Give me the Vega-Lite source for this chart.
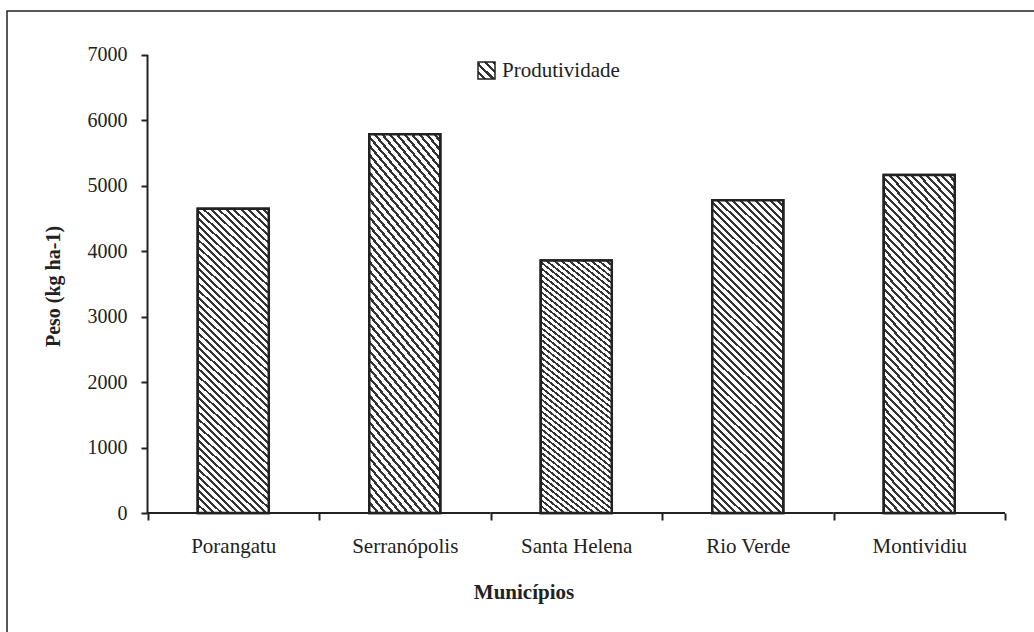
{
  "$schema": "https://vega.github.io/schema/vega-lite/v6.json",
  "width": 1033,
  "height": 627,
  "autosize": {"type": "none"},
  "padding": {"left": 7, "top": 11, "right": -6, "bottom": -6},
  "background": "#ffffff",
  "config": {
    "view": {"stroke": "#222222", "strokeWidth": 1.5},
    "font": "Liberation Serif",
    "axis": {
      "grid": false,
      "domain": false,
      "labelFont": "Liberation Serif",
      "titleFont": "Liberation Serif",
      "labelColor": "#222222",
      "titleColor": "#222222",
      "tickColor": "#222222",
      "tickWidth": 2
    },
    "legend": {
      "orient": "none",
      "legendX": 469,
      "legendY": 49,
      "padding": 0,
      "symbolType": "square",
      "symbolSize": 289,
      "symbolStrokeWidth": 1.5,
      "labelFont": "Liberation Serif",
      "labelFontSize": 21,
      "labelColor": "#222222",
      "labelOffset": 5
    }
  },
  "data": {
    "values": [
      {"municipio": "Porangatu", "peso": 4650},
      {"municipio": "Serranópolis", "peso": 5790},
      {"municipio": "Santa Helena", "peso": 3860},
      {"municipio": "Rio Verde", "peso": 4780},
      {"municipio": "Montividiu", "peso": 5165}
    ]
  },
  "layer": [
    {
      "mark": {"type": "point", "shape": "square", "filled": false, "stroke": "#222222", "strokeWidth": 1.5, "size": 289},
      "encoding": {
        "x": {
          "field": "municipio",
          "type": "nominal",
          "sort": null,
          "scale": {"paddingInner": 0, "paddingOuter": 0.5117, "align": 0.8006},
          "axis": {
            "title": "Municípios",
            "offset": -125,
            "tickBand": "extent",
            "tickSize": 7,
            "labelPadding": 15,
            "labelFontSize": 21,
            "labelAngle": 0,
            "titleFontSize": 21,
            "titleFontWeight": "bold",
            "titlePadding": 25
          }
        },
        "y": {
          "datum": 2000,
          "type": "quantitative",
          "scale": {"domain": [-1910.4, 7672.3], "nice": false, "zero": false},
          "axis": {
            "title": "Peso (kg ha-1)",
            "values": [0, 1000, 2000, 3000, 4000, 5000, 6000, 7000],
            "format": "d",
            "offset": -140.5,
            "tickSize": 6.5,
            "labelPadding": 14,
            "labelFontSize": 20,
            "titleFontSize": 20,
            "titleFontWeight": "bold",
            "titleAngle": -90,
            "titleX": -94,
            "titleY": 275,
            "titleAlign": "center",
            "titleBaseline": "middle"
          }
        },
        "strokeOpacity": {
          "datum": "Produtividade ",
          "type": "nominal",
          "scale": {"range": [1]},
          "legend": {"title": null, "labelColor": "transparent", "symbolStrokeColor": "#222222", "symbolStrokeWidth": 1.5, "zindex": 2}
        }
      }
    },
    {
      "mark": {
        "type": "bar",
        "width": {"band": 0.414},
        "stroke": "#222222",
        "strokeWidth": 2.5,
        "fill": {
          "gradient": "linear", "x1": 0, "y1": 1, "x2": 1, "y2": 0,
          "stops": [
            {"offset": 0, "color": "#ffffff"}, {"offset": 0.15, "color": "#ffffff"}, {"offset": 0.15, "color": "#333333"}, {"offset": 0.25, "color": "#333333"},
            {"offset": 0.25, "color": "#ffffff"}, {"offset": 0.4, "color": "#ffffff"}, {"offset": 0.4, "color": "#333333"}, {"offset": 0.5, "color": "#333333"},
            {"offset": 0.5, "color": "#ffffff"}, {"offset": 0.65, "color": "#ffffff"}, {"offset": 0.65, "color": "#333333"}, {"offset": 0.75, "color": "#333333"},
            {"offset": 0.75, "color": "#ffffff"}, {"offset": 0.9, "color": "#ffffff"}, {"offset": 0.9, "color": "#333333"}, {"offset": 1, "color": "#333333"}
          ]
        }
      },
      "encoding": {
        "x": {"field": "municipio", "type": "nominal", "sort": null},
        "y": {"field": "peso", "type": "quantitative"},
        "opacity": {
          "datum": "Produtividade",
          "type": "nominal",
          "scale": {"range": [1]},
          "legend": {"title": null, "zindex": 1}
        }
      }
    },
    {
      "mark": {
        "type": "bar",
        "width": {"band": 0.414},
        "stroke": "#222222",
        "strokeWidth": 2.5,
        "fill": {
          "gradient": "linear", "x1": 1, "y1": 0, "x2": 0.7389, "y2": 1.1655,
          "stops": [
            {"offset": 0, "color": "#fff"}, {"offset": 0.0115, "color": "#fff"}, {"offset": 0.0115, "color": "#333"}, {"offset": 0.0192, "color": "#333"},
            {"offset": 0.0192, "color": "#fff"}, {"offset": 0.0308, "color": "#fff"}, {"offset": 0.0308, "color": "#333"}, {"offset": 0.0385, "color": "#333"},
            {"offset": 0.0385, "color": "#fff"}, {"offset": 0.05, "color": "#fff"}, {"offset": 0.05, "color": "#333"}, {"offset": 0.0577, "color": "#333"},
            {"offset": 0.0577, "color": "#fff"}, {"offset": 0.0692, "color": "#fff"}, {"offset": 0.0692, "color": "#333"}, {"offset": 0.0769, "color": "#333"},
            {"offset": 0.0769, "color": "#fff"}, {"offset": 0.0885, "color": "#fff"}, {"offset": 0.0885, "color": "#333"}, {"offset": 0.0962, "color": "#333"},
            {"offset": 0.0962, "color": "#fff"}, {"offset": 0.1077, "color": "#fff"}, {"offset": 0.1077, "color": "#333"}, {"offset": 0.1154, "color": "#333"},
            {"offset": 0.1154, "color": "#fff"}, {"offset": 0.1269, "color": "#fff"}, {"offset": 0.1269, "color": "#333"}, {"offset": 0.1346, "color": "#333"},
            {"offset": 0.1346, "color": "#fff"}, {"offset": 0.1462, "color": "#fff"}, {"offset": 0.1462, "color": "#333"}, {"offset": 0.1538, "color": "#333"},
            {"offset": 0.1538, "color": "#fff"}, {"offset": 0.1654, "color": "#fff"}, {"offset": 0.1654, "color": "#333"}, {"offset": 0.1731, "color": "#333"},
            {"offset": 0.1731, "color": "#fff"}, {"offset": 0.1846, "color": "#fff"}, {"offset": 0.1846, "color": "#333"}, {"offset": 0.1923, "color": "#333"},
            {"offset": 0.1923, "color": "#fff"}, {"offset": 0.2038, "color": "#fff"}, {"offset": 0.2038, "color": "#333"}, {"offset": 0.2115, "color": "#333"},
            {"offset": 0.2115, "color": "#fff"}, {"offset": 0.2231, "color": "#fff"}, {"offset": 0.2231, "color": "#333"}, {"offset": 0.2308, "color": "#333"},
            {"offset": 0.2308, "color": "#fff"}, {"offset": 0.2423, "color": "#fff"}, {"offset": 0.2423, "color": "#333"}, {"offset": 0.25, "color": "#333"},
            {"offset": 0.25, "color": "#fff"}, {"offset": 0.2615, "color": "#fff"}, {"offset": 0.2615, "color": "#333"}, {"offset": 0.2692, "color": "#333"},
            {"offset": 0.2692, "color": "#fff"}, {"offset": 0.2808, "color": "#fff"}, {"offset": 0.2808, "color": "#333"}, {"offset": 0.2885, "color": "#333"},
            {"offset": 0.2885, "color": "#fff"}, {"offset": 0.3, "color": "#fff"}, {"offset": 0.3, "color": "#333"}, {"offset": 0.3077, "color": "#333"},
            {"offset": 0.3077, "color": "#fff"}, {"offset": 0.3192, "color": "#fff"}, {"offset": 0.3192, "color": "#333"}, {"offset": 0.3269, "color": "#333"},
            {"offset": 0.3269, "color": "#fff"}, {"offset": 0.3385, "color": "#fff"}, {"offset": 0.3385, "color": "#333"}, {"offset": 0.3462, "color": "#333"},
            {"offset": 0.3462, "color": "#fff"}, {"offset": 0.3577, "color": "#fff"}, {"offset": 0.3577, "color": "#333"}, {"offset": 0.3654, "color": "#333"},
            {"offset": 0.3654, "color": "#fff"}, {"offset": 0.3769, "color": "#fff"}, {"offset": 0.3769, "color": "#333"}, {"offset": 0.3846, "color": "#333"},
            {"offset": 0.3846, "color": "#fff"}, {"offset": 0.3962, "color": "#fff"}, {"offset": 0.3962, "color": "#333"}, {"offset": 0.4038, "color": "#333"},
            {"offset": 0.4038, "color": "#fff"}, {"offset": 0.4154, "color": "#fff"}, {"offset": 0.4154, "color": "#333"}, {"offset": 0.4231, "color": "#333"},
            {"offset": 0.4231, "color": "#fff"}, {"offset": 0.4346, "color": "#fff"}, {"offset": 0.4346, "color": "#333"}, {"offset": 0.4423, "color": "#333"},
            {"offset": 0.4423, "color": "#fff"}, {"offset": 0.4538, "color": "#fff"}, {"offset": 0.4538, "color": "#333"}, {"offset": 0.4615, "color": "#333"},
            {"offset": 0.4615, "color": "#fff"}, {"offset": 0.4731, "color": "#fff"}, {"offset": 0.4731, "color": "#333"}, {"offset": 0.4808, "color": "#333"},
            {"offset": 0.4808, "color": "#fff"}, {"offset": 0.4923, "color": "#fff"}, {"offset": 0.4923, "color": "#333"}, {"offset": 0.5, "color": "#333"},
            {"offset": 0.5, "color": "#fff"}, {"offset": 0.5115, "color": "#fff"}, {"offset": 0.5115, "color": "#333"}, {"offset": 0.5192, "color": "#333"},
            {"offset": 0.5192, "color": "#fff"}, {"offset": 0.5308, "color": "#fff"}, {"offset": 0.5308, "color": "#333"}, {"offset": 0.5385, "color": "#333"},
            {"offset": 0.5385, "color": "#fff"}, {"offset": 0.55, "color": "#fff"}, {"offset": 0.55, "color": "#333"}, {"offset": 0.5577, "color": "#333"},
            {"offset": 0.5577, "color": "#fff"}, {"offset": 0.5692, "color": "#fff"}, {"offset": 0.5692, "color": "#333"}, {"offset": 0.5769, "color": "#333"},
            {"offset": 0.5769, "color": "#fff"}, {"offset": 0.5885, "color": "#fff"}, {"offset": 0.5885, "color": "#333"}, {"offset": 0.5962, "color": "#333"},
            {"offset": 0.5962, "color": "#fff"}, {"offset": 0.6077, "color": "#fff"}, {"offset": 0.6077, "color": "#333"}, {"offset": 0.6154, "color": "#333"},
            {"offset": 0.6154, "color": "#fff"}, {"offset": 0.6269, "color": "#fff"}, {"offset": 0.6269, "color": "#333"}, {"offset": 0.6346, "color": "#333"},
            {"offset": 0.6346, "color": "#fff"}, {"offset": 0.6462, "color": "#fff"}, {"offset": 0.6462, "color": "#333"}, {"offset": 0.6538, "color": "#333"},
            {"offset": 0.6538, "color": "#fff"}, {"offset": 0.6654, "color": "#fff"}, {"offset": 0.6654, "color": "#333"}, {"offset": 0.6731, "color": "#333"},
            {"offset": 0.6731, "color": "#fff"}, {"offset": 0.6846, "color": "#fff"}, {"offset": 0.6846, "color": "#333"}, {"offset": 0.6923, "color": "#333"},
            {"offset": 0.6923, "color": "#fff"}, {"offset": 0.7038, "color": "#fff"}, {"offset": 0.7038, "color": "#333"}, {"offset": 0.7115, "color": "#333"},
            {"offset": 0.7115, "color": "#fff"}, {"offset": 0.7231, "color": "#fff"}, {"offset": 0.7231, "color": "#333"}, {"offset": 0.7308, "color": "#333"},
            {"offset": 0.7308, "color": "#fff"}, {"offset": 0.7423, "color": "#fff"}, {"offset": 0.7423, "color": "#333"}, {"offset": 0.75, "color": "#333"},
            {"offset": 0.75, "color": "#fff"}, {"offset": 0.7615, "color": "#fff"}, {"offset": 0.7615, "color": "#333"}, {"offset": 0.7692, "color": "#333"},
            {"offset": 0.7692, "color": "#fff"}, {"offset": 0.7808, "color": "#fff"}, {"offset": 0.7808, "color": "#333"}, {"offset": 0.7885, "color": "#333"},
            {"offset": 0.7885, "color": "#fff"}, {"offset": 0.8, "color": "#fff"}, {"offset": 0.8, "color": "#333"}, {"offset": 0.8077, "color": "#333"},
            {"offset": 0.8077, "color": "#fff"}, {"offset": 0.8192, "color": "#fff"}, {"offset": 0.8192, "color": "#333"}, {"offset": 0.8269, "color": "#333"},
            {"offset": 0.8269, "color": "#fff"}, {"offset": 0.8385, "color": "#fff"}, {"offset": 0.8385, "color": "#333"}, {"offset": 0.8462, "color": "#333"},
            {"offset": 0.8462, "color": "#fff"}, {"offset": 0.8577, "color": "#fff"}, {"offset": 0.8577, "color": "#333"}, {"offset": 0.8654, "color": "#333"},
            {"offset": 0.8654, "color": "#fff"}, {"offset": 0.8769, "color": "#fff"}, {"offset": 0.8769, "color": "#333"}, {"offset": 0.8846, "color": "#333"},
            {"offset": 0.8846, "color": "#fff"}, {"offset": 0.8962, "color": "#fff"}, {"offset": 0.8962, "color": "#333"}, {"offset": 0.9038, "color": "#333"},
            {"offset": 0.9038, "color": "#fff"}, {"offset": 0.9154, "color": "#fff"}, {"offset": 0.9154, "color": "#333"}, {"offset": 0.9231, "color": "#333"},
            {"offset": 0.9231, "color": "#fff"}, {"offset": 0.9346, "color": "#fff"}, {"offset": 0.9346, "color": "#333"}, {"offset": 0.9423, "color": "#333"},
            {"offset": 0.9423, "color": "#fff"}, {"offset": 0.9538, "color": "#fff"}, {"offset": 0.9538, "color": "#333"}, {"offset": 0.9615, "color": "#333"},
            {"offset": 0.9615, "color": "#fff"}, {"offset": 0.9731, "color": "#fff"}, {"offset": 0.9731, "color": "#333"}, {"offset": 0.9808, "color": "#333"},
            {"offset": 0.9808, "color": "#fff"}, {"offset": 0.9923, "color": "#fff"}, {"offset": 0.9923, "color": "#333"}, {"offset": 1, "color": "#333"}
          ]
        }
      },
      "encoding": {
        "x": {"field": "municipio", "type": "nominal", "sort": null},
        "y": {"field": "peso", "type": "quantitative"}
      }
    },
    {
      "mark": {"type": "bar", "width": {"band": 1}, "fill": "transparent", "stroke": "#222222", "strokeWidth": 2},
      "encoding": {
        "x": {"field": "municipio", "type": "nominal", "sort": null},
        "y": {"datum": 0, "type": "quantitative"},
        "y2": {"datum": 0}
      }
    },
    {
      "transform": [{"filter": "datum.municipio === 'Porangatu'"}],
      "mark": {"type": "rule", "stroke": "#222222", "strokeWidth": 2},
      "encoding": {
        "x": {"field": "municipio", "type": "nominal", "sort": null, "bandPosition": 0},
        "y": {"datum": 0, "type": "quantitative"},
        "y2": {"datum": 7000}
      }
    }
  ]
}
